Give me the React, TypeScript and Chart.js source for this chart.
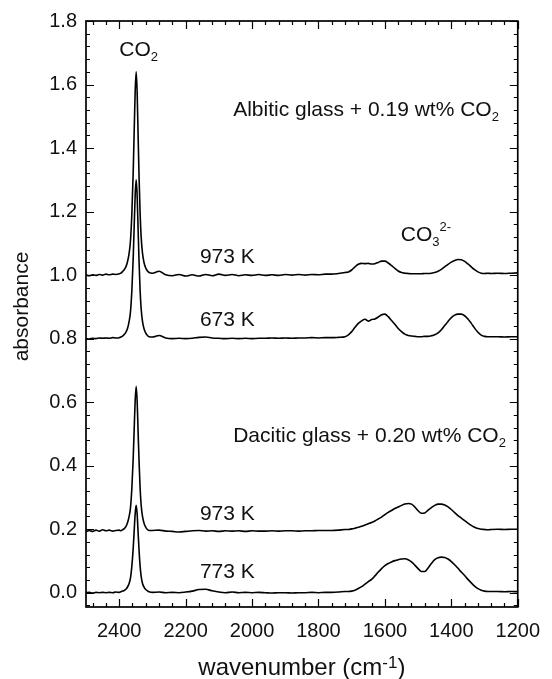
import { useEffect, useRef } from 'react';
import { Chart, registerables } from 'chart.js';

Chart.register(...registerables);

const FONT = '"Liberation Sans", Arial, Helvetica, sans-serif';

// shared wavenumber grid (cm-1)
const wavenumber = [
  2500, 2490, 2480, 2470, 2460, 2450, 2440, 2430, 2420, 2410, 2400,
  2395, 2390, 2385, 2380, 2375, 2370, 2366, 2362, 2358, 2355, 2352, 2349, 2346, 2343, 2340, 2337, 2334, 2330, 2325, 2320, 2315, 2310,
  2300, 2280, 2260, 2240, 2220, 2200, 2180, 2160, 2140, 2120, 2100, 2080, 2060, 2040, 2020, 2000, 1980, 1960, 1940, 1920, 1900, 1880, 1860, 1840, 1820, 1800, 1780, 1760, 1740, 1720,
  1710, 1700, 1690, 1680, 1670, 1660, 1650, 1640, 1630, 1620, 1610, 1600, 1590, 1580, 1570, 1560, 1550, 1540, 1530, 1520, 1510, 1500, 1490, 1480, 1470, 1460, 1450, 1440, 1430, 1420, 1410, 1400, 1390, 1380, 1370, 1360, 1350, 1340, 1330, 1320, 1310, 1300, 1290, 1280,
  1260, 1240, 1220, 1200,
];

const albitic973 = [
  1.000, 0.998, 1.001, 0.999, 1.002, 1.000, 1.003, 1.001, 1.003, 1.002, 1.004,
  1.006, 1.011, 1.017, 1.026, 1.042, 1.070, 1.109, 1.192, 1.320, 1.448, 1.576, 1.640, 1.576, 1.435, 1.301, 1.192, 1.122, 1.070, 1.038, 1.022, 1.013, 1.008,
  1.006, 1.012, 1.001, 0.998, 1.002, 0.997, 1.001, 0.997, 1.002, 0.998, 1.003, 0.999, 1.002, 0.998, 1.001, 0.999, 1.002, 0.999, 1.001, 0.999, 1.002, 1.000, 1.002, 1.000, 1.002, 1.001, 1.003, 1.003, 1.005, 1.008,
  1.010, 1.016, 1.026, 1.034, 1.037, 1.036, 1.037, 1.035, 1.036, 1.040, 1.044, 1.044, 1.038, 1.030, 1.021, 1.013, 1.008, 1.006, 1.005, 1.004, 1.004, 1.004, 1.004, 1.005, 1.005, 1.006, 1.008, 1.012, 1.018, 1.026, 1.034, 1.041, 1.046, 1.049, 1.048, 1.043, 1.035, 1.026, 1.017, 1.010, 1.006, 1.005, 1.006, 1.005,
  1.006, 1.005, 1.006, 1.007,
];

const albitic673 = [
  0.800, 0.799, 0.801, 0.800, 0.802, 0.801, 0.802, 0.801, 0.803, 0.802, 0.803,
  0.805, 0.808, 0.813, 0.820, 0.832, 0.855, 0.885, 0.950, 1.050, 1.150, 1.250, 1.300, 1.250, 1.140, 1.035, 0.950, 0.895, 0.855, 0.830, 0.817, 0.810, 0.806,
  0.805, 0.810, 0.802, 0.800, 0.801, 0.800, 0.801, 0.804, 0.805, 0.802, 0.801, 0.800, 0.801, 0.800, 0.801, 0.800, 0.801, 0.801, 0.802, 0.801, 0.802, 0.801, 0.802, 0.802, 0.803, 0.802, 0.803, 0.803, 0.804, 0.806,
  0.812, 0.822, 0.836, 0.848, 0.856, 0.861, 0.855, 0.860, 0.862, 0.868, 0.875, 0.877, 0.869, 0.857, 0.845, 0.832, 0.822, 0.814, 0.810, 0.808, 0.807, 0.806, 0.806, 0.807, 0.807, 0.809, 0.812, 0.818, 0.828, 0.841, 0.854, 0.866, 0.874, 0.877, 0.877, 0.872, 0.862, 0.848, 0.833, 0.820, 0.811, 0.807, 0.806, 0.806,
  0.806, 0.805, 0.806, 0.806,
];

const dacitic973 = [
  0.192, 0.196, 0.193, 0.197, 0.194, 0.198, 0.195, 0.197, 0.194, 0.196, 0.197,
  0.195, 0.198, 0.202, 0.208, 0.220, 0.241, 0.268, 0.328, 0.420, 0.512, 0.604, 0.650, 0.604, 0.503, 0.406, 0.328, 0.277, 0.241, 0.218, 0.206, 0.199, 0.196,
  0.196, 0.197, 0.194, 0.193, 0.191, 0.193, 0.195, 0.196, 0.194, 0.195, 0.193, 0.195, 0.194, 0.195, 0.193, 0.195, 0.194, 0.194, 0.195, 0.194, 0.195, 0.195, 0.194, 0.195, 0.195, 0.196, 0.196, 0.196, 0.197, 0.199,
  0.199, 0.201, 0.203, 0.206, 0.209, 0.213, 0.217, 0.221, 0.226, 0.232, 0.238, 0.246, 0.253, 0.259, 0.265, 0.270, 0.275, 0.279, 0.281, 0.279, 0.270, 0.258, 0.250, 0.251, 0.260, 0.268, 0.275, 0.279, 0.279, 0.276, 0.270, 0.262, 0.252, 0.243, 0.235, 0.227, 0.219, 0.212, 0.206, 0.202, 0.200, 0.199, 0.198, 0.199,
  0.200, 0.199, 0.200, 0.200,
];

const dacitic773 = [
  0.000, 0.001, -0.001, 0.001, 0.000, 0.001, 0.000, 0.001, 0.000, 0.002, 0.001,
  0.003, 0.005, 0.007, 0.011, 0.018, 0.030, 0.047, 0.083, 0.138, 0.193, 0.248, 0.275, 0.248, 0.187, 0.129, 0.083, 0.052, 0.030, 0.017, 0.010, 0.006, 0.003,
  0.001, 0.002, 0.000, 0.001, 0.000, 0.002, 0.005, 0.010, 0.011, 0.006, 0.002, 0.000, 0.002, 0.000, 0.001, 0.000, 0.001, 0.000, -0.001, 0.000, 0.000, -0.001, 0.000, 0.000, 0.001, 0.000, 0.001, 0.001, 0.002, 0.004,
  0.004, 0.005, 0.008, 0.013, 0.019, 0.027, 0.035, 0.042, 0.053, 0.065, 0.076, 0.085, 0.092, 0.097, 0.101, 0.104, 0.106, 0.107, 0.104, 0.097, 0.087, 0.076, 0.067, 0.067, 0.078, 0.092, 0.104, 0.110, 0.112, 0.111, 0.106, 0.098, 0.088, 0.077, 0.065, 0.054, 0.042, 0.031, 0.021, 0.013, 0.008, 0.005, 0.004, 0.004,
  0.004, 0.003, 0.004, 0.003,
];

const xTickValues = [2400, 2200, 2000, 1800, 1600, 1400, 1200];
const yTickValues = [0, 0.2, 0.4, 0.6, 0.8, 1.0, 1.2, 1.4, 1.6, 1.8];

const xTitle = [['wavenumber (cm', 'n'], ['-1', 'sup'], [')', 'n']];
const yTitle = 'absorbance';

// text labels placed in data coordinates
const annotations = [
  { x: 2400, y: 1.69, parts: [['CO', 'n'], ['2', 'sub']] },
  { x: 2057, y: 1.5, parts: [['Albitic glass + 0.19 wt% CO', 'n'], ['2', 'sub']] },
  { x: 2157, y: 1.037, parts: [['973 K', 'n']] },
  { x: 1552, y: 1.107, parts: [['CO', 'n'], ['3', 'sub'], ['2-', 'sup']] },
  { x: 2157, y: 0.84, parts: [['673 K', 'n']] },
  { x: 2057, y: 0.476, parts: [['Dacitic glass + 0.20 wt% CO', 'n'], ['2', 'sub']] },
  { x: 2157, y: 0.228, parts: [['973 K', 'n']] },
  { x: 2157, y: 0.046, parts: [['773 K', 'n']] },
];

function drawRich(ctx: CanvasRenderingContext2D, parts: string[][], x: number, y: number, size: number, subSize: number, subDrop: number, supRaise: number) {
  let cx = x;
  ctx.textAlign = 'left';
  ctx.textBaseline = 'alphabetic';
  for (const [t, kind] of parts) {
    if (kind === 'n') {
      ctx.font = `${size}px ${FONT}`;
      ctx.fillText(t, cx, y);
    } else if (kind === 'sub') {
      ctx.font = `${subSize}px ${FONT}`;
      ctx.fillText(t, cx, y + subDrop);
    } else {
      ctx.font = `${subSize}px ${FONT}`;
      ctx.fillText(t, cx, y - supRaise);
    }
    cx += ctx.measureText(t).width;
  }
  return cx - x;
}

const framePlugin = {
  id: 'framePlugin',
  afterDatasetsDraw(chart: any) {
    const { ctx, chartArea: a, scales } = chart;
    const xs = scales.x;
    const ys = scales.y;
    ctx.save();
    ctx.strokeStyle = '#000';
    ctx.lineWidth = 1.7;
    ctx.strokeRect(a.left, a.top, a.right - a.left, a.bottom - a.top);

    ctx.lineWidth = 1.2;
    ctx.beginPath();
    for (let v = 1200; v <= 2500; v += 40) {
      const px = Math.round(xs.getPixelForValue(v)) + 0.5;
      const len = v % 200 === 0 ? 8 : 4;
      ctx.moveTo(px, a.bottom);
      ctx.lineTo(px, a.bottom - len);
      ctx.moveTo(px, a.top);
      ctx.lineTo(px, a.top + len);
    }
    for (let k = -1; k <= 45; k++) {
      const v = k * 0.04;
      if (v < ys.min - 1e-9 || v > ys.max + 1e-9) continue;
      const py = Math.round(ys.getPixelForValue(v)) + 0.5;
      const len = k % 5 === 0 ? 8 : 4;
      ctx.moveTo(a.left, py);
      ctx.lineTo(a.left + len, py);
      ctx.moveTo(a.right, py);
      ctx.lineTo(a.right - len, py);
    }
    ctx.stroke();

    ctx.fillStyle = '#111';
    for (const an of annotations) {
      drawRich(ctx, an.parts, xs.getPixelForValue(an.x), ys.getPixelForValue(an.y), 21, 13, 5, 10);
    }

    // x axis title (with superscript)
    let w = 0;
    for (const [t, kind] of xTitle) {
      ctx.font = kind === 'n' ? `24px ${FONT}` : `17px ${FONT}`;
      w += ctx.measureText(t).width;
    }
    const cx = (a.left + a.right) / 2;
    drawRich(ctx, xTitle, cx - w / 2, 675, 24, 17, 5, 7);

    // y axis title
    ctx.save();
    ctx.translate(28, 306.5);
    ctx.rotate(-Math.PI / 2);
    ctx.font = `21px ${FONT}`;
    ctx.textAlign = 'center';
    ctx.textBaseline = 'alphabetic';
    ctx.fillText(yTitle, 0, 0);
    ctx.restore();

    ctx.restore();
  },
};

export default function App() {
  const ref = useRef<HTMLCanvasElement | null>(null);

  useEffect(() => {
    if (!ref.current) return;
    const mk = (vals: number[]) => wavenumber.map((w, i) => ({ x: w, y: vals[i] }));
    const ds = (label: string, vals: number[]) => ({
      label,
      data: mk(vals),
      borderColor: '#000',
      borderWidth: 1.6,
      pointRadius: 0,
      fill: false,
      cubicInterpolationMode: 'monotone' as const,
    });
    const chart = new Chart(ref.current, {
      type: 'line',
      data: {
        datasets: [
          ds('Albitic 973 K', albitic973),
          ds('Albitic 673 K', albitic673),
          ds('Dacitic 973 K', dacitic973),
          ds('Dacitic 773 K', dacitic773),
        ],
      },
      options: {
        responsive: false,
        animation: false,
        layout: { padding: { top: 19, right: 26, left: 0, bottom: 0 } },
        plugins: { legend: { display: false }, tooltip: { enabled: false } },
        scales: {
          x: {
            type: 'linear',
            reverse: true,
            min: 1200,
            max: 2500,
            afterBuildTicks: (s: any) => {
              s.ticks = xTickValues.map((v) => ({ value: v }));
            },
            afterFit: (s: any) => {
              s.height = 72;
            },
            grid: { display: false, drawTicks: false },
            border: { display: false },
            ticks: {
              padding: 12,
              color: '#111',
              autoSkip: false,
              maxRotation: 0,
              font: { family: FONT, size: 20 },
              callback: (v: any) => String(v),
            },
          },
          y: {
            type: 'linear',
            min: -0.045,
            max: 1.8,
            afterBuildTicks: (s: any) => {
              s.ticks = yTickValues.map((v) => ({ value: v }));
            },
            afterFit: (s: any) => {
              s.width = 86;
            },
            grid: { display: false, drawTicks: false },
            border: { display: false },
            ticks: {
              padding: 9,
              color: '#111',
              autoSkip: false,
              font: { family: FONT, size: 20 },
              callback: (v: any) => Number(v).toFixed(1),
            },
          },
        },
      },
      plugins: [framePlugin],
    });
    return () => chart.destroy();
  }, []);

  return (
    <div style={{ position: 'absolute', left: 0, top: 0, width: 552, height: 679, background: '#fff' }}>
      <canvas ref={ref} width={552} height={679} style={{ display: 'block', width: 552, height: 679 }} />
    </div>
  );
}
